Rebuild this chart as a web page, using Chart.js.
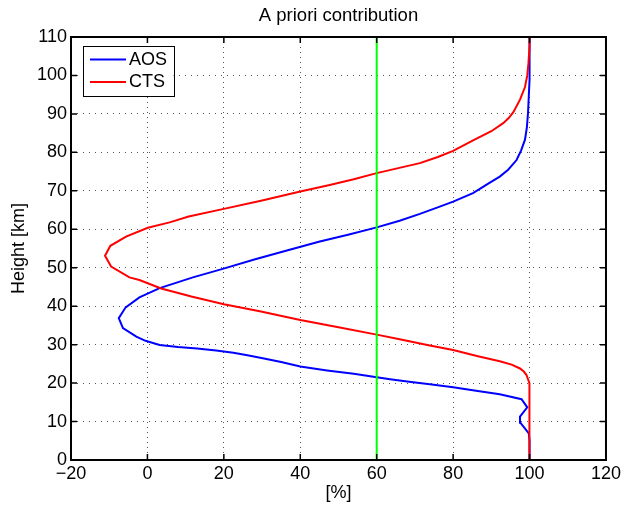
<!DOCTYPE html>
<html><head><meta charset="utf-8">
<script src="https://cdn.jsdelivr.net/npm/chart.js@4/dist/chart.umd.min.js"></script>
<style>html,body{margin:0;padding:0;background:#fff;}#wrap{width:624px;height:507px;}</style>
</head><body><div id="wrap"><canvas id="c" width="624" height="507"></canvas></div>
<script>
const aosHeight = [0,5,6.9,9.7,11.3,13.7,15.8,17.1,18,18.9,19.7,20.3,21,21.5,22.4,23.3,24.3,25.5,26.4,27.2,27.9,28.5,29,29.4,29.9,31,32.1,34.3,36.9,39.7,42.3,44.7,47.5,49.7,52.2,54.5,56.8,58.6,60.5,62.2,64,65.9,67.2,69.4,70.7,72,73.7,75.5,78,80.5,83.3,86.5,90.3,99,110];
const aosValue  = [100,100,99.8,97.6,97.5,99.4,97.9,92.2,86,80,73.9,69,63.5,60,54,47,40,35,30.5,26.5,22.5,18,13,8,3.2,-0.5,-2.9,-6.4,-7.5,-5.7,-2.1,3.2,11.9,19.7,28.2,36.5,45.1,52.5,60,66,71.3,76.5,80,85.2,87.3,89.4,92.2,94.4,96.6,97.8,98.8,99.3,99.6,100,100];
const ctsHeight = [0,10,18,20,21,22.1,23,23.8,24.8,25.7,27,28.6,29.8,31.4,32.6,34.5,36.4,38.7,40.5,42.5,44.6,46.8,47.5,50.3,53.1,55.7,58.1,60.4,61.8,63.3,65.3,67.5,69.8,71.5,73,74.6,77.2,78.8,80.4,83.3,85.5,87.6,89,90.5,93.7,97,100,103,107.5,110];
const ctsValue  = [100,100,100,99.9,99.6,99.2,98.5,97.5,95.3,92.2,86.5,80,73.9,66,60,50,40,29.4,20,11.5,3.6,-2.1,-4.7,-9.5,-11.1,-9.7,-5.6,0.1,5.8,10.8,20,30,40,47.7,54,60,71.3,76,80,85.6,90,93.1,94.6,95.8,97.5,98.8,99.4,99.7,100,100];
const refHeight = [0,110];
const refValue  = [60,60];
const xTicks = [-20,0,20,40,60,80,100,120];
const yTicks = [0,10,20,30,40,50,60,70,80,90,100,110];
const seriesNames = ['AOS','CTS'];
const seriesColors = ['#0000ff','#ff0000'];
const chartTitle = 'A priori contribution';

const FONT = "'Liberation Sans', Arial, Helvetica, sans-serif";
const pts = (hs, vs) => hs.map((h,i)=>({x:vs[i], y:h}));

const framePlugin = {
  id:'frame',
  afterDatasetsDraw(chart){
    const {ctx, chartArea:a, scales:{x,y}} = chart;
    ctx.save();
    ctx.strokeStyle='#000';
    ctx.lineWidth=1.5;
    const tl=6;
    ctx.beginPath();
    xTicks.forEach(v=>{const px=x.getPixelForValue(v); ctx.moveTo(px,a.bottom); ctx.lineTo(px,a.bottom-tl); ctx.moveTo(px,a.top); ctx.lineTo(px,a.top+tl);});
    yTicks.forEach(v=>{const py=y.getPixelForValue(v); ctx.moveTo(a.left,py); ctx.lineTo(a.left+tl,py); ctx.moveTo(a.right,py); ctx.lineTo(a.right-tl,py);});
    ctx.stroke();
    ctx.lineWidth=2;
    ctx.strokeRect(a.left,a.top,a.right-a.left,a.bottom-a.top);
    // title
    ctx.fillStyle='#000'; ctx.font='18.5px '+FONT; ctx.textAlign='center'; ctx.textBaseline='middle';
    ctx.fillText(chartTitle,(a.left+a.right)/2,16);
    // legend
    const bx=a.left+11.5, by=a.top+9, bw=91, bh=50;
    ctx.fillStyle='#fff'; ctx.fillRect(bx,by,bw,bh);
    ctx.lineWidth=1; ctx.strokeStyle='#000';
    ctx.strokeRect(Math.round(bx)+0.5,Math.round(by)+0.5,bw,bh);
    ctx.font='18px '+FONT; ctx.textBaseline='middle'; ctx.textAlign='left';
    seriesNames.forEach((n,i)=>{
      const ly=a.top+22.5+i*22.5;
      ctx.strokeStyle=seriesColors[i]; ctx.lineWidth=2;
      ctx.beginPath(); ctx.moveTo(a.left+19,ly); ctx.lineTo(a.left+55,ly); ctx.stroke();
      ctx.fillStyle='#000'; ctx.fillText(n,a.left+58,ly+0.5);
    });
    ctx.restore();
  }
};

new Chart(document.getElementById('c'), {
  type:'scatter',
  data:{datasets:[
    {label:'ref', data:pts(refHeight,refValue), showLine:true, borderColor:'#00ff00', borderWidth:2, pointRadius:0, order:0},
    {label:seriesNames[1], data:pts(ctsHeight,ctsValue), showLine:true, borderColor:seriesColors[1], borderWidth:2, pointRadius:0, order:1},
    {label:seriesNames[0], data:pts(aosHeight,aosValue), showLine:true, borderColor:seriesColors[0], borderWidth:2, pointRadius:0, order:2}
  ]},
  options:{
    responsive:false, devicePixelRatio:1, animation:false,
    layout:{padding:{left:0,right:18,top:37,bottom:0}},
    plugins:{legend:{display:false}, tooltip:{enabled:false}, title:{display:false}},
    scales:{
      x:{type:'linear', min:-20, max:120,
        afterBuildTicks:s=>{s.ticks=xTicks.map(v=>({value:v}));},
        afterFit:s=>{s.height=47;},
        ticks:{color:'#000', font:{family:FONT,size:18}, padding:3, maxRotation:0, callback:v=>String(v).replace('-','\u2212')},
        grid:{color:'#555', drawTicks:false, lineWidth:1},
        border:{display:false, dash:[1,4]},
        title:{display:true, text:'[%]', color:'#000', font:{family:FONT,size:18}, padding:{top:0,bottom:3}}
      },
      y:{type:'linear', min:0, max:110,
        afterBuildTicks:s=>{s.ticks=yTicks.map(v=>({value:v}));},
        afterFit:s=>{s.width=71;},
        ticks:{color:'#000', font:{family:FONT,size:18}, padding:4},
        grid:{color:'#555', drawTicks:false, lineWidth:1},
        border:{display:false, dash:[1,5]},
        title:{display:true, text:'Height [km]', color:'#000', font:{family:FONT,size:18}, padding:{top:8,bottom:0}}
      }
    }
  },
  plugins:[framePlugin]
});
</script></body></html>
